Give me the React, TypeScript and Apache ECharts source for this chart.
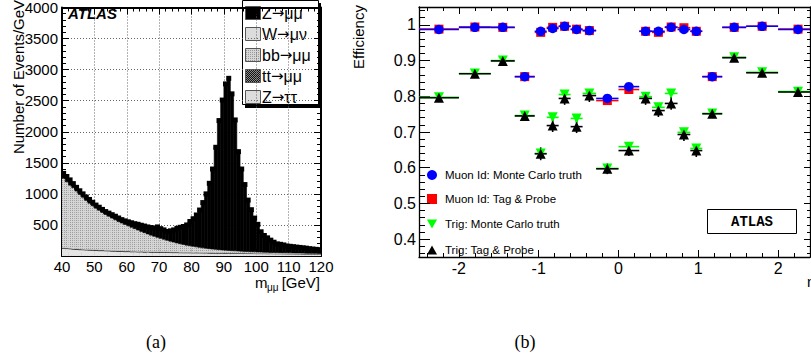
import React, { useEffect, useRef } from 'react';
import * as echarts from 'echarts';

// ---------- Panel (a): dimuon invariant mass, 1 GeV bins from 40 GeV ----------
const massLow = 40;
const massBinWidth = 1;
const massMin = 40;
const massMax = 120;

const dataTotal = [
  1330, 1280, 1225, 1165, 1105, 1050, 1000, 950, 910, 865,
  820, 785, 750, 715, 690, 665, 640, 612, 585, 565,
  550, 535, 520, 510, 495, 482, 468, 458, 452, 468,
  440, 420, 395, 405, 420, 445, 462, 475, 500, 555,
  600, 660, 740, 860, 1000, 1170, 1400, 1750, 2180, 2510,
  2770, 2860, 2610, 2190, 1680, 1400, 1150, 900, 745, 610,
  510, 390, 330, 292, 255, 222, 195, 188, 178, 162,
  156, 150, 143, 138, 132, 126, 118, 112, 107, 102,
];
const zmumu = [
  80, 85, 85, 65, 60, 60, 55, 55, 60, 55,
  50, 50, 50, 47, 50, 55, 57, 57, 55, 58,
  65, 73, 80, 92, 99, 106, 112, 122, 134, 168,
  156, 152, 143, 167, 196, 235, 264, 289, 325, 390,
  444, 513, 601, 729, 876, 1052, 1288, 1643, 2078, 2412,
  2676, 2770, 2524, 2107, 1600, 1323, 1076, 828, 675, 542,
  444, 326, 268, 232, 197, 165, 140, 134, 125, 110,
  105, 100, 94, 90, 85, 80, 73, 68, 64, 60,
];
const bbmumu = [
  1110, 1061, 1009, 976, 923, 874, 830, 785, 740, 704,
  665, 635, 599, 572, 545, 518, 491, 467, 443, 423,
  401, 382, 360, 341, 318, 301, 280, 263, 246, 228,
  214, 199, 183, 171, 158, 144, 134, 123, 112, 104,
  96, 86, 80, 72, 66, 61, 55, 51, 47, 43,
  41, 37, 34, 32, 30, 27, 25, 24, 22, 21,
  20, 18, 17, 16, 14, 14, 13, 12, 12, 12,
  11, 11, 10, 10, 10, 9, 9, 8, 8, 7,
];
const wmunu = [
  7, 6, 7, 6, 6, 5, 6, 5, 5, 5,
  5, 4, 5, 4, 4, 4, 4, 4, 3, 4,
  3, 3, 3, 3, 3, 3, 3, 3, 2, 3,
  2, 2, 2, 2, 2, 2, 2, 2, 2, 2,
  2, 2, 2, 2, 2, 2, 2, 2, 2, 2,
  2, 1, 2, 1, 1, 1, 1, 1, 1, 1,
  1, 1, 1, 1, 1, 1, 1, 1, 1, 1,
  1, 1, 1, 1, 1, 1, 1, 1, 1, 1,
];
const ttmumu = [
  9, 9, 10, 9, 10, 10, 10, 10, 11, 10,
  10, 11, 11, 10, 11, 11, 11, 10, 11, 11,
  11, 11, 10, 11, 11, 11, 10, 11, 10, 10,
  10, 10, 10, 10, 10, 10, 10, 10, 10, 9,
  10, 10, 9, 10, 9, 9, 10, 9, 9, 9,
  9, 9, 9, 8, 9, 8, 8, 8, 8, 8,
  8, 8, 7, 8, 7, 7, 7, 7, 7, 7,
  7, 6, 7, 6, 6, 6, 6, 6, 6, 5,
];
const ztautau = [
  124, 119, 114, 109, 106, 101, 99, 95, 94, 91,
  90, 85, 85, 82, 80, 77, 77, 74, 73, 69,
  70, 66, 67, 63, 64, 61, 63, 59, 60, 59,
  58, 57, 57, 55, 54, 54, 52, 51, 51, 50,
  48, 49, 48, 47, 47, 46, 45, 45, 44, 44,
  42, 43, 41, 42, 40, 41, 40, 39, 39, 38,
  37, 37, 37, 35, 36, 35, 34, 34, 33, 32,
  32, 32, 31, 31, 30, 30, 29, 29, 28, 29,
];
// legend labels: [lead, decay products]
const legendA = [['Z', 'μμ'], ['W', 'μν'], ['bb', 'μμ'], ['tt', 'μμ'], ['Z', 'ττ']];

// ---------- Panel (b): efficiency vs eta ----------
const etaEdges = [-2.5, -2.0, -1.6, -1.3, -1.05, -0.9, -0.75, -0.6, -0.45, -0.28, 0, 0.26, 0.42, 0.58, 0.74, 0.9, 1.05, 1.3, 1.6, 2.0, 2.5];
const muonIdMC = [0.987, 0.993, 0.993, 0.855, 0.982, 0.990, 0.996, 0.987, 0.984, 0.794, 0.827, 0.982, 0.982, 0.993, 0.987, 0.982, 0.855, 0.993, 0.996, 0.987];
const muonIdTP = [0.988, 0.994, 0.993, 0.855, 0.979, 0.993, 0.996, 0.988, 0.984, 0.788, 0.819, 0.982, 0.979, 0.994, 0.992, 0.982, 0.855, 0.993, 0.996, 0.988];
const trigMC = [0.797, 0.864, 0.900, 0.746, 0.640, 0.741, 0.805, 0.738, 0.808, 0.598, 0.659, 0.799, 0.769, 0.808, 0.699, 0.654, 0.752, 0.909, 0.867, 0.813];
const trigTP = [0.796, 0.863, 0.899, 0.745, 0.639, 0.718, 0.794, 0.715, 0.802, 0.597, 0.648, 0.794, 0.760, 0.780, 0.693, 0.648, 0.751, 0.908, 0.866, 0.812];
const muonIdErr = [0.002, 0.002, 0.002, 0.004, 0.002, 0.002, 0.002, 0.002, 0.002, 0.004, 0.004, 0.002, 0.002, 0.002, 0.002, 0.002, 0.004, 0.002, 0.002, 0.002];
const trigMCErr = [0.006, 0.006, 0.006, 0.008, 0.012, 0.012, 0.012, 0.012, 0.012, 0.01, 0.01, 0.012, 0.012, 0.012, 0.012, 0.012, 0.008, 0.006, 0.006, 0.006];
const trigTPErr = [0.008, 0.008, 0.008, 0.01, 0.018, 0.018, 0.018, 0.018, 0.018, 0.015, 0.015, 0.018, 0.018, 0.018, 0.018, 0.018, 0.01, 0.008, 0.008, 0.008];
const legendB = ['Muon Id: Monte Carlo truth', 'Muon Id: Tag & Probe', 'Trig: Monte Carlo truth', 'Trig: Tag & Probe'];

const SANS = '"Liberation Sans", Arial, Helvetica, sans-serif';

function makePattern(w: number, h: number, bg: string, dots: number[][], dot: string): any {
  if (typeof document === 'undefined') return bg;
  const c = document.createElement('canvas');
  c.width = w;
  c.height = h;
  const ctx = c.getContext('2d');
  if (!ctx) return bg;
  ctx.fillStyle = bg;
  ctx.fillRect(0, 0, w, h);
  ctx.fillStyle = dot;
  dots.forEach(([x, y]) => ctx.fillRect(x, y, 1, 1));
  return { image: c, repeat: 'repeat', imageWidth: w, imageHeight: h };
}

// stacked histogram component drawn as rects through the axes' scales
function histSeries(values: number[], below: number[][], fill: any, stroke: string, lw: number) {
  const data = values.map((v, i) => {
    const base = below.reduce((s, arr) => s + arr[i], 0);
    return [massLow + i * massBinWidth, massLow + (i + 1) * massBinWidth, base, base + v];
  });
  return {
    type: 'custom',
    xAxisIndex: 0,
    yAxisIndex: 0,
    clip: true,
    silent: true,
    z: 2,
    encode: { x: [0, 1], y: [2, 3] },
    data,
    renderItem: (_p: any, api: any) => {
      const a = api.coord([api.value(0), api.value(2)]);
      const b = api.coord([api.value(1), api.value(3)]);
      return {
        type: 'rect',
        shape: { x: a[0], y: b[1], width: b[0] - a[0], height: a[1] - b[1] },
        style: { fill, stroke, lineWidth: lw },
      };
    },
  };
}

function barSeries(values: number[], errs: number[], color: string) {
  return {
    type: 'custom',
    xAxisIndex: 2,
    yAxisIndex: 2,
    clip: true,
    silent: true,
    z: 3,
    encode: { x: [0, 1], y: 2 },
    data: values.map((v, i) => [etaEdges[i], etaEdges[i + 1], v, errs[i]]),
    renderItem: (_p: any, api: any) => {
      const lo = api.value(0);
      const hi = api.value(1);
      const v = api.value(2);
      const e = api.value(3);
      const c = (lo + hi) / 2;
      const a = api.coord([lo, v]);
      const b = api.coord([hi, v]);
      const t = api.coord([c, v + e]);
      const d = api.coord([c, v - e]);
      return {
        type: 'group',
        children: [
          { type: 'line', shape: { x1: a[0], y1: a[1], x2: b[0], y2: b[1] }, style: { stroke: color, lineWidth: 1.6 } },
          { type: 'line', shape: { x1: t[0], y1: t[1], x2: d[0], y2: d[1] }, style: { stroke: color, lineWidth: 1.6 } },
        ],
      };
    },
  };
}

function markerSeries(values: number[], color: string, symbol: string, size: number, rotate = 0) {
  return {
    type: 'scatter',
    xAxisIndex: 2,
    yAxisIndex: 2,
    symbol,
    symbolSize: size,
    symbolRotate: rotate,
    silent: true,
    z: 3,
    data: values.map((v, i) => [(etaEdges[i] + etaEdges[i + 1]) / 2, v]),
    itemStyle: { color, opacity: 1 },
  };
}

function frameAxis(extra: any) {
  return {
    type: 'value',
    axisLine: { show: true, onZero: false, lineStyle: { color: '#000', width: 1.3 } },
    axisTick: { show: true, inside: true, length: 7, lineStyle: { color: '#000', width: 1 } },
    minorTick: { show: true, splitNumber: 5, length: 4, lineStyle: { color: '#000', width: 1 } },
    axisLabel: { show: false },
    splitLine: { show: false },
    ...extra,
  };
}

const labelStyle = (size: number, margin: number) => ({
  show: true,
  color: '#000',
  fontSize: size,
  fontFamily: SANS,
  margin,
  formatter: (v: number) => String(v),
});

export default function App() {
  const ref = useRef<HTMLDivElement>(null);

  useEffect(() => {
    if (!ref.current) return;
    const chart = echarts.init(ref.current, undefined, { renderer: 'svg' });

    const gridLine = { show: true, lineStyle: { color: '#666', type: [1, 2], width: 1 } };

    const bbFill = makePattern(4, 2, '#d6d6d6', [[0, 0], [2, 0]], '#9a9a9a');
    const ttFill = makePattern(2, 2, '#111', [[0, 0], [1, 1]], '#8a8a8a');

    // legend (a) graphics
    const legAY = [13, 34, 55, 76, 97];
    const legAFill: any[] = ['#000', '#dcdcdc', bbFill, ttFill, '#dcdcdc'];
    const legAEls: any[] = [
      { type: 'rect', shape: { x: 245, y: 3, width: 76, height: 105 }, style: { fill: '#000' } },
      { type: 'rect', shape: { x: 242.5, y: 0.5, width: 76, height: 104 }, style: { fill: '#fff', stroke: '#000', lineWidth: 1 } },
    ];
    legendA.forEach((t, i) => {
      legAEls.push({ type: 'rect', shape: { x: 245.5, y: legAY[i] - 6.5, width: 15, height: 13 }, style: { fill: legAFill[i], stroke: '#555', lineWidth: 1 } });
      legAEls.push({
        type: 'text', x: 262, y: legAY[i],
        style: {
          text: `{a|${t[0]}}{r|→}{a|${t[1]}}`,
          rich: {
            a: { fontSize: 16, fontFamily: SANS, fill: '#000', color: '#000' },
            r: { fontSize: 15, fontFamily: '"DejaVu Sans", sans-serif', fill: '#000', color: '#000' },
          },
          fill: '#000',
          textVerticalAlign: 'middle', verticalAlign: 'middle',
        },
      });
    });

    const legBY = [175, 199, 224, 250];
    const legBEls: any[] = [
      { type: 'circle', shape: { cx: 432, cy: legBY[0], r: 5 }, style: { fill: '#0000ff' } },
      { type: 'rect', shape: { x: 427, y: legBY[1] - 5, width: 10, height: 10 }, style: { fill: '#ff0000' } },
      { type: 'polygon', shape: { points: [[427, legBY[2] - 4.5], [437, legBY[2] - 4.5], [432, legBY[2] + 4.5]] }, style: { fill: '#00ff00' } },
      { type: 'polygon', shape: { points: [[427, legBY[3] + 4.5], [437, legBY[3] + 4.5], [432, legBY[3] - 4.5]] }, style: { fill: '#000' } },
    ];
    legendB.forEach((t, i) => {
      legBEls.push({ type: 'text', x: 445, y: legBY[i], style: { text: t, font: `11.5px ${SANS}`, fill: '#000', textVerticalAlign: 'middle', verticalAlign: 'middle' } });
    });

    const option: any = {
      animation: false,
      backgroundColor: '#fff',
      grid: [
        { left: 62, top: 1, width: 259, height: 255, containLabel: false },
        { left: 419, top: 7, width: 391, height: 250, containLabel: false },
      ],
      xAxis: [
        frameAxis({
          gridIndex: 0, min: massMin, max: massMax, interval: 10, position: 'bottom',
          axisLine: { show: true, onZero: false, lineStyle: { color: '#000', width: 2 } },
          axisLabel: labelStyle(15, 3),
          splitLine: gridLine,
        }),
        frameAxis({ gridIndex: 0, min: massMin, max: massMax, interval: 10, position: 'top',
          axisLine: { show: true, onZero: false, lineStyle: { color: '#000', width: 2 } } }),
        frameAxis({
          gridIndex: 1, min: -2.5, max: 2.4, splitNumber: 5, position: 'bottom',
          axisLabel: { ...labelStyle(16, 3), showMinLabel: false, showMaxLabel: false },
        }),
        frameAxis({ gridIndex: 1, min: -2.5, max: 2.4, splitNumber: 5, position: 'top' }),
      ],
      yAxis: [
        frameAxis({
          gridIndex: 0, min: 0, max: 4000, interval: 500, position: 'left',
          axisLine: { show: true, onZero: false, lineStyle: { color: '#000', width: 2 } },
          axisLabel: { ...labelStyle(15, 4), showMinLabel: false },
          splitLine: gridLine,
        }),
        frameAxis({ gridIndex: 0, min: 0, max: 4000, interval: 500, position: 'right',
          axisLine: { show: true, onZero: false, lineStyle: { color: '#000', width: 2 } } }),
        frameAxis({
          gridIndex: 1, min: 0.35, max: 1.05, splitNumber: 7, position: 'left',
          axisTick: { show: true, inside: true, length: 11, lineStyle: { color: '#000', width: 1 } },
          minorTick: { show: true, splitNumber: 5, length: 6, lineStyle: { color: '#000', width: 1 } },
          axisLabel: { ...labelStyle(16, 3), showMinLabel: false, showMaxLabel: false },
        }),
        frameAxis({ gridIndex: 1, min: 0.35, max: 1.05, splitNumber: 7, position: 'right',
          axisTick: { show: true, inside: true, length: 6, lineStyle: { color: '#000', width: 1 } },
          minorTick: { show: true, splitNumber: 5, length: 3, lineStyle: { color: '#000', width: 1 } } }),
      ],
      series: [
        histSeries(ztautau, [], '#e4e4e4', '#e4e4e4', 0.6),
        histSeries(ttmumu, [ztautau], '#222', '#000', 0.6),
        histSeries(wmunu, [ztautau, ttmumu], '#dcdcdc', '#dcdcdc', 0.4),
        histSeries(bbmumu, [ztautau, ttmumu, wmunu], bbFill, '#cccccc', 0.3),
        histSeries(zmumu, [ztautau, ttmumu, wmunu, bbmumu], '#000', '#000', 0.6),
        {
          type: 'scatter', xAxisIndex: 0, yAxisIndex: 0, silent: true, z: 4,
          symbol: 'rect', symbolSize: 5,
          data: dataTotal.map((v, i) => [massLow + (i + 0.5) * massBinWidth, v]),
          itemStyle: { color: '#000', opacity: 1 },
        },
        barSeries(muonIdTP, muonIdErr, '#ff0000'),
        markerSeries(muonIdTP, '#ff0000', 'rect', 9),
        barSeries(muonIdMC, muonIdErr, '#0000ff'),
        markerSeries(muonIdMC, '#0000ff', 'circle', 9.5),
        barSeries(trigMC, trigMCErr, '#00ff00'),
        markerSeries(trigMC, '#00ff00', 'triangle', 10, 180),
        barSeries(trigTP, trigTPErr, '#000'),
        markerSeries(trigTP, '#000', 'triangle', 10),
      ],
      graphic: [
        {
          type: 'group', z: 50, children: [
            { type: 'text', x: 68, y: 13, style: { text: 'ATLAS', font: `italic bold 15px ${SANS}`, fill: '#000', textVerticalAlign: 'middle', verticalAlign: 'middle' } },
            ...legAEls,
            { type: 'text', x: 18, y: 77, rotation: Math.PI / 2, style: { text: 'Number of Events/GeV', font: `15px ${SANS}`, fill: '#000', textAlign: 'center', align: 'center', textVerticalAlign: 'middle', verticalAlign: 'middle' } },
            { type: 'text', x: 255, y: 282, style: { text: 'm', font: `15px ${SANS}`, fill: '#000', textVerticalAlign: 'middle', verticalAlign: 'middle' } },
            { type: 'text', x: 267, y: 287, style: { text: 'μμ', font: `10px ${SANS}`, fill: '#000', textVerticalAlign: 'middle', verticalAlign: 'middle' } },
            { type: 'text', x: 320, y: 282, style: { text: '[GeV]', font: `15px ${SANS}`, fill: '#000', textAlign: 'right', align: 'right', textVerticalAlign: 'middle', verticalAlign: 'middle' } },
            { type: 'text', x: 358, y: 37, rotation: Math.PI / 2, style: { text: 'Efficiency', font: `15px ${SANS}`, fill: '#000', textAlign: 'center', align: 'center', textVerticalAlign: 'middle', verticalAlign: 'middle' } },
            ...legBEls,
            { type: 'rect', shape: { x: 707.5, y: 209.5, width: 89, height: 24 }, style: { fill: '#fff', stroke: '#000', lineWidth: 1 } },
            { type: 'text', x: 752, y: 222, style: { text: 'ATLAS', font: 'bold 14px "Liberation Mono", "Courier New", monospace', fill: '#000', textAlign: 'center', align: 'center', textVerticalAlign: 'middle', verticalAlign: 'middle' } },
            { type: 'text', x: 807, y: 281, style: { text: 'η', font: `15px ${SANS}`, fill: '#000', textVerticalAlign: 'middle', verticalAlign: 'middle' } },
            { type: 'text', x: 156, y: 342, style: { text: '(a)', font: '18px "Liberation Serif", "Times New Roman", serif', fill: '#000', textAlign: 'center', align: 'center', textVerticalAlign: 'middle', verticalAlign: 'middle' } },
            { type: 'text', x: 525, y: 342, style: { text: '(b)', font: '18px "Liberation Serif", "Times New Roman", serif', fill: '#000', textAlign: 'center', align: 'center', textVerticalAlign: 'middle', verticalAlign: 'middle' } },
          ],
        },
      ],
    };

    chart.setOption(option);
    return () => chart.dispose();
  }, []);

  return (
    <div
      ref={ref}
      style={{ position: 'absolute', left: 0, top: 0, width: 811, height: 359, background: '#fff' }}
    />
  );
}
